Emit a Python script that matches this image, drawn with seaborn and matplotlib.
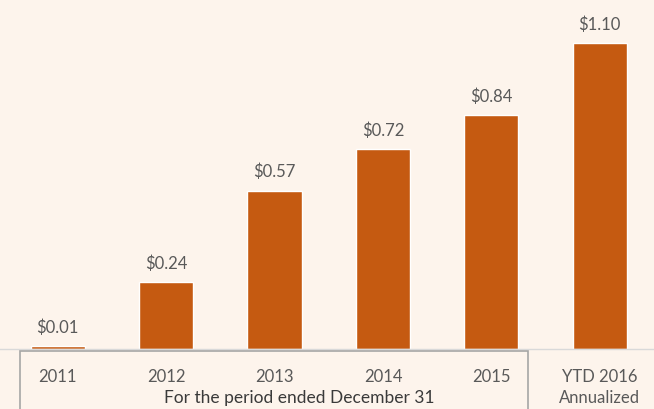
import numpy as np
import pandas as pd
import matplotlib
matplotlib.use('Agg')
import matplotlib.pyplot as plt
import seaborn as sns
from matplotlib.patches import Rectangle

# datos
periodos = ['2011', '2012', '2013', '2014', '2015', 'YTD 2016\nAnnualized']
valores = [0.01, 0.24, 0.57, 0.72, 0.84, 1.10]
etiquetas = ['$0.01', '$0.24', '$0.57', '$0.72', '$0.84', '$1.10']

FONDO = '#FDF4EC'
NARANJA = '#C55A11'
GRIS = '#595959'

sns.set_style('white')
plt.rcParams['font.family'] = ['Lato', 'DejaVu Sans']

df = pd.DataFrame({'periodo': periodos, 'valor': valores})

fig = plt.figure(figsize=(6.54, 4.10), dpi=100, facecolor=FONDO)
ax = fig.add_axes([0, 60 / 410, 1, 350 / 410])
ax.set_facecolor(FONDO)

sns.barplot(data=df, x='periodo', y='valor', color=NARANJA, saturation=1,
            width=0.5, ax=ax)

ax.bar_label(ax.containers[0], labels=etiquetas, padding=8,
             fontsize=12, color=GRIS)

ax.set_xlim(-0.5 - 3.5 / 109, 5.5 - 3.5 / 109)
ax.set_ylim(0, 350 / 278)
ax.set_yticks([])
ax.set_xlabel('')
ax.set_ylabel('')
for lado in ['top', 'right', 'left']:
    ax.spines[lado].set_visible(False)
ax.spines['bottom'].set_color('#D9D9D9')
ax.spines['bottom'].set_linewidth(1)

ax.set_xticks(range(len(periodos)))
ax.set_xticklabels(periodos, fontsize=12, color=GRIS, linespacing=1.35)
ax.tick_params(axis='x', length=0, pad=14)
# marcas pequeñas entre categorias
ax.set_xticks(np.arange(-0.5, 6, 1), minor=True)
ax.tick_params(axis='x', which='minor', length=4, color='#D9D9D9', width=1)

# caja del periodo
caja = Rectangle((20 / 654, -5 / 410), 508 / 654, 63 / 410,
                 transform=fig.transFigure, fill=False,
                 edgecolor='#A6A6A6', linewidth=1.2)
fig.patches.append(caja)
fig.text(299 / 654, 1 - 398 / 410, 'For the period ended December 31',
         ha='center', va='center', fontsize=12.5, color='#3A3A3A')

fig.savefig('out.png', dpi=100, facecolor=FONDO)
